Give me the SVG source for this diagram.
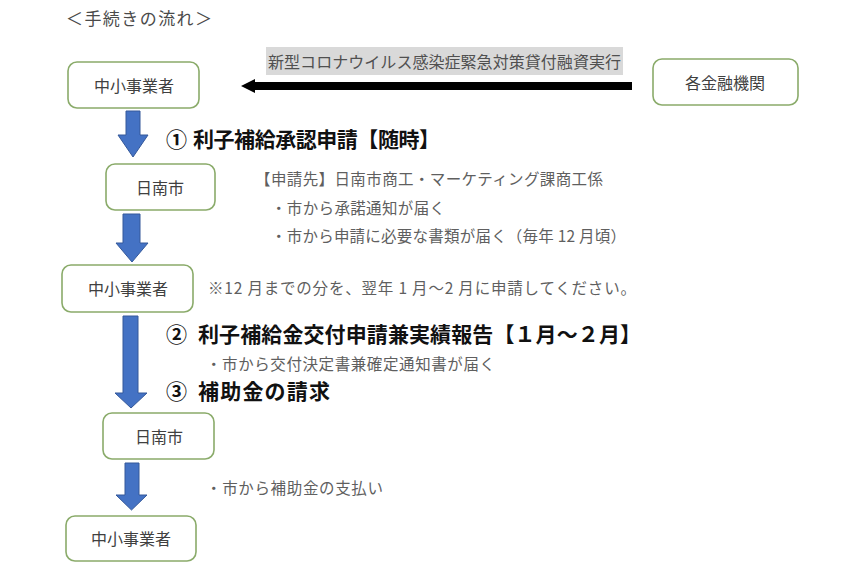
<svg xmlns="http://www.w3.org/2000/svg" width="868" height="580" viewBox="0 0 868 580">
<style>
text{font-family:"Noto Sans CJK JP","Noto Sans",sans-serif;dominant-baseline:central}
.box{fill:#fff;stroke:#8aab6a;stroke-width:1.6}
.nt{font-size:16px;fill:#404040;text-anchor:middle}
.h{font-size:21px;font-weight:bold;fill:#111}
.b{font-size:15.5px;fill:#5f5f5f}
.blue{fill:#4472c4;stroke:#35599a;stroke-width:1}
</style>
<rect width="868" height="580" fill="#fff"/>
<text x="66" y="17" style="font-size:17px;fill:#4a4a4a" textLength="146" lengthAdjust="spacing">＜手続きの流れ＞</text>

<g id="connectors">
<polygon class="blue" points="126,111 140,111 140,135 148,135 133,157 118,135 126,135"/>
<polygon class="blue" points="123,214 140,214 140,243 148,243 132,262 116,243 123,243"/>
<polygon class="blue" points="123,316 138,316 138,393 147,393 131,408 115,393 123,393"/>
<polygon class="blue" points="125,463 139,463 139,495 147,495 131.5,510 116,495 125,495"/>
<g id="loan-arrow">
<rect x="252" y="82" width="380" height="8" fill="#000"/>
<polygon points="241,86 255,79 255,93" fill="#000"/>
</g>
</g>

<g id="loan-label">
<rect x="266" y="47" width="357" height="28" fill="#d9d9d9"/>
<text x="268" y="61" style="font-size:16px;fill:#505050" textLength="353" lengthAdjust="spacing">新型コロナウイルス感染症緊急対策貸付融資実行</text>
</g>

<g id="node-sme1"><rect class="box" x="68" y="62" width="131" height="46" rx="9"/><text class="nt" x="134" y="85">中小事業者</text></g>
<g id="node-bank"><rect class="box" x="653" y="59" width="145" height="46" rx="9"/><text class="nt" x="725" y="82">各金融機関</text></g>
<g id="node-city1"><rect class="box" x="106" y="164" width="109" height="46" rx="9"/><text class="nt" x="160" y="187">日南市</text></g>
<g id="node-sme2"><rect class="box" x="62" y="265" width="131" height="47" rx="9"/><text class="nt" x="128" y="288">中小事業者</text></g>
<g id="node-city2"><rect class="box" x="103" y="413" width="111" height="46" rx="9"/><text class="nt" x="159" y="436">日南市</text></g>
<g id="node-sme3"><rect class="box" x="66" y="516" width="130" height="45" rx="9"/><text class="nt" x="131" y="538">中小事業者</text></g>

<g id="labels">
<text class="h" x="166" y="138">①</text>
<text class="h" x="193" y="138" textLength="247" lengthAdjust="spacing">利子補給承認申請【随時】</text>
<text class="b" x="255" y="178" textLength="348" lengthAdjust="spacing">【申請先】日南市商工・マーケティング課商工係</text>
<text class="b" x="271" y="207" textLength="174" lengthAdjust="spacing">・市から承諾通知が届く</text>
<text class="b" x="271" y="235" textLength="355" lengthAdjust="spacing">・市から申請に必要な書類が届く（毎年 12 月頃）</text>
<text class="b" x="208" y="287" textLength="428" lengthAdjust="spacing">※12 月までの分を、翌年 1 月～2 月に申請してください。</text>
<text class="h" x="166" y="333">②</text>
<text class="h" x="198" y="333" textLength="443" lengthAdjust="spacing">利子補給金交付申請兼実績報告【１月～２月】</text>
<text class="b" x="206" y="363" textLength="289" lengthAdjust="spacing">・市から交付決定書兼確定通知書が届く</text>
<text class="h" x="166" y="390">③</text>
<text class="h" x="198" y="390" textLength="132" lengthAdjust="spacing">補助金の請求</text>
<text class="b" x="206" y="487" textLength="177" lengthAdjust="spacing">・市から補助金の支払い</text>
</g>
</svg>
